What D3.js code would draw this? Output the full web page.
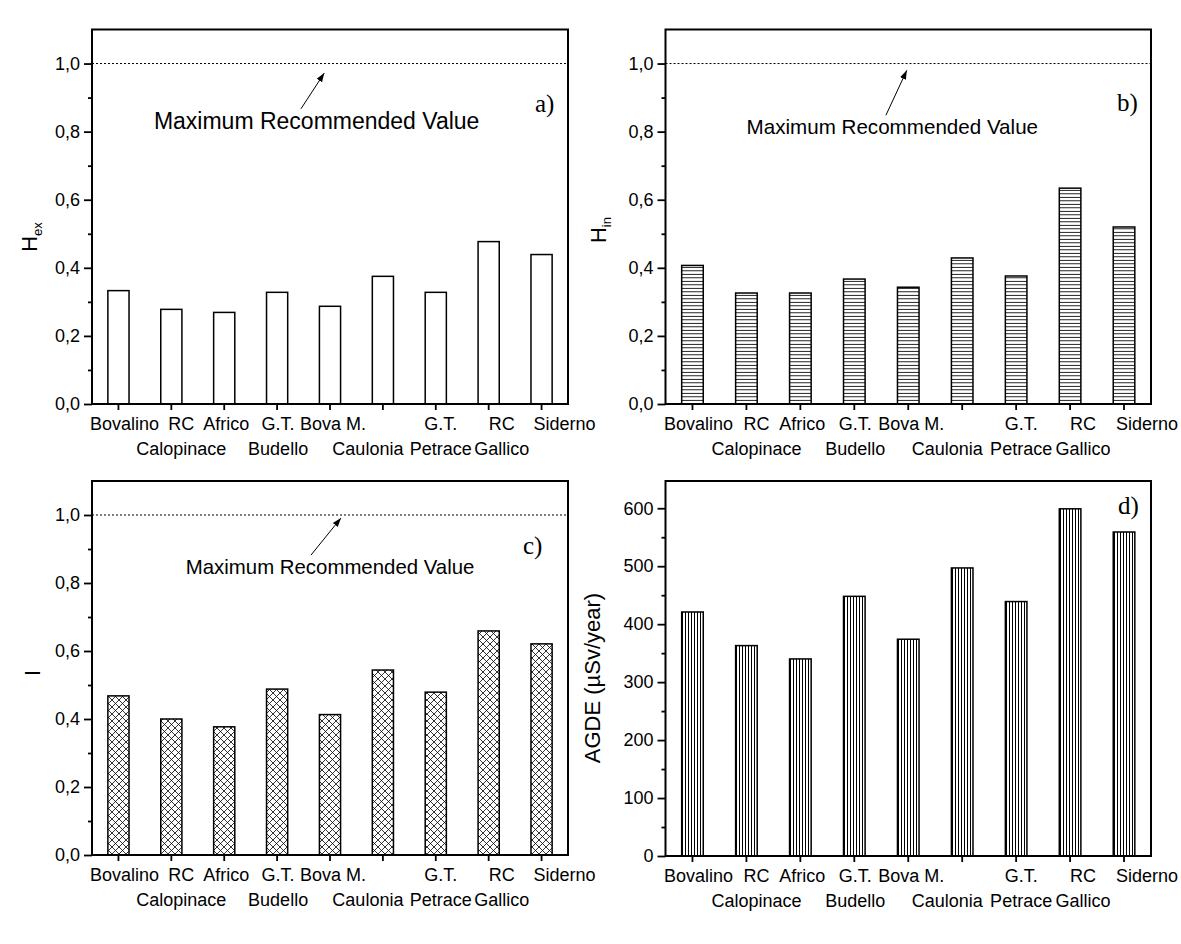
<!DOCTYPE html>
<html><head><meta charset="utf-8">
<script src="https://cdn.jsdelivr.net/npm/d3@7"></script>
<style>
body{margin:0;background:#fff}
svg{display:block}
text{font-family:"Liberation Sans",Arial,sans-serif;fill:#000}
</style>
</head><body>
<svg id="chart" width="1181" height="944"></svg>
<script>
// ---------- data ----------
const categories = ["Bovalino","RC Calopinace","Africo","G.T. Budello","Bova M.","Caulonia","G.T. Petrace","RC Gallico","Siderno"];
const labelLines = [["Bovalino"],["RC","Calopinace"],["Africo"],["G.T.","Budello"],["Bova M."],["","Caulonia"],["G.T.","Petrace"],["RC","Gallico"],["Siderno"]];
const hexValues  = [0.333,0.278,0.269,0.328,0.287,0.375,0.328,0.477,0.439];
const hinValues  = [0.407,0.326,0.326,0.367,0.343,0.429,0.376,0.634,0.520];
const iValues    = [0.468,0.400,0.377,0.488,0.413,0.544,0.479,0.659,0.621];
const agdeValues = [421,363,340,448,374,497,439,599,559];
const indexTicks = [0,0.2,0.4,0.6,0.8,1.0];
const indexMinor = [0.1,0.3,0.5,0.7,0.9];
const agdeTicks  = [0,100,200,300,400,500,600];
const agdeMinor  = [50,150,250,350,450,550];
const limitValue = 1.0;
const annotationText = "Maximum Recommended Value";

// ---------- layout (not data) ----------
const labelShift = [6,10,2,1,3,-15,5,13,23];
const commaFmt = d => d3.format(".1f")(d).replace(".", ",");
const intFmt = d3.format("d");

const panels = [
  {values:hexValues, ticks:indexTicks, minor:indexMinor, max:1.1, fmt:commaFmt, pattern:null,
   title:["H","ex"], x0:92, x1:568, y0:29.5, y1:404, titleX:37, titleY:237,
   tag:"a)", tagX:535, tagY:112, limit:true,
   ann:{tx:0.13, ty:0.807, size:23, ax1:0.439, ay1:0.867, ax2:0.488, ay2:0.972}},
  {values:hinValues, ticks:indexTicks, minor:indexMinor, max:1.1, fmt:commaFmt, pattern:"url(#hatchH)",
   title:["H","in"], x0:665.5, x1:1151, y0:29.5, y1:404, titleX:606, titleY:230,
   tag:"b)", tagX:1117, tagY:111, limit:true,
   ann:{tx:0.167, ty:0.794, size:20.6, ax1:0.454, ay1:0.848, ax2:0.497, ay2:0.98}},
  {values:iValues, ticks:indexTicks, minor:indexMinor, max:1.1, fmt:commaFmt, pattern:"url(#cross)",
   title:["I"], x0:92, x1:568, y0:481, y1:855, titleX:40, titleY:673,
   tag:"c)", tagX:523, tagY:554, limit:true,
   ann:{tx:0.197, ty:0.826, size:20.4, ax1:0.46, ay1:0.882, ax2:0.523, ay2:0.991}},
  {values:agdeValues, ticks:agdeTicks, minor:agdeMinor, max:647, fmt:intFmt, pattern:"url(#hatchV)",
   title:["AGDE (µSv/year)"], x0:665.5, x1:1151, y0:481, y1:856, titleX:600, titleY:678,
   tag:"d)", tagX:1118, tagY:514, limit:false, ann:null}
];

const svg = d3.select("#chart");
const defs = svg.append("defs");

// horizontal hatch
const ph = defs.append("pattern").attr("id","hatchH").attr("patternUnits","userSpaceOnUse")
  .attr("width",8).attr("height",3.5);
ph.append("rect").attr("width",8).attr("height",3.5).attr("fill","#fff");
ph.append("line").attr("x1",0).attr("x2",8).attr("y1",1.5).attr("y2",1.5)
  .attr("stroke","#000").attr("stroke-width",1).attr("shape-rendering","crispEdges");
// vertical hatch
const pv = defs.append("pattern").attr("id","hatchV").attr("patternUnits","userSpaceOnUse")
  .attr("width",3).attr("height",8);
pv.append("rect").attr("width",3).attr("height",8).attr("fill","#fff");
pv.append("line").attr("x1",1.5).attr("x2",1.5).attr("y1",0).attr("y2",8)
  .attr("stroke","#000").attr("stroke-width",1).attr("shape-rendering","crispEdges");
// cross hatch
const pc = defs.append("pattern").attr("id","cross").attr("patternUnits","userSpaceOnUse")
  .attr("width",7).attr("height",7);
pc.append("rect").attr("width",7).attr("height",7).attr("fill","#fff");
pc.append("path").attr("d","M0,0L7,7M7,0L0,7M-1,1L1,-1M6,8L8,6M-1,6L1,8M6,-1L8,1")
  .attr("stroke","#000").attr("stroke-width",0.8).attr("fill","none");
// arrow marker
defs.append("marker").attr("id","arrow").attr("markerUnits","userSpaceOnUse")
  .attr("markerWidth",10).attr("markerHeight",8).attr("refX",9).attr("refY",4)
  .attr("orient","auto")
  .append("path").attr("d","M0,0.8L9,4L0,7.2Z").attr("fill","#000");

panels.forEach(p => {
  const g = svg.append("g");
  const x = d3.scaleBand().domain(categories).range([p.x0, p.x1]).paddingInner(0).paddingOuter(0);
  const y = d3.scaleLinear().domain([0, p.max]).range([p.y1, p.y0]);
  const barW = x.bandwidth() * 0.4;
  const fx = t => p.x0 + t * (p.x1 - p.x0);

  // bars
  g.selectAll("rect.bar").data(p.values).join("rect").attr("class","bar")
    .attr("x", (d,i) => x(categories[i]) + (x.bandwidth() - barW) / 2)
    .attr("width", barW)
    .attr("y", d => y(d))
    .attr("height", d => y(0) - y(d))
    .attr("fill", p.pattern || "#fff")
    .attr("stroke", "#000").attr("stroke-width", 1.5);

  // limit line
  if (p.limit) {
    g.append("line").attr("x1", p.x0).attr("x2", p.x1)
      .attr("y1", y(limitValue)).attr("y2", y(limitValue))
      .attr("stroke","#000").attr("stroke-width",1).attr("stroke-dasharray","2,2");
  }

  // y axis major
  const ya = g.append("g").attr("transform", `translate(${p.x0},0)`)
    .call(d3.axisLeft(y).tickValues(p.ticks).tickFormat(p.fmt).tickSizeInner(8).tickSizeOuter(0).tickPadding(4));
  ya.select(".domain").remove();
  ya.selectAll("line").attr("stroke-width",1.8);
  ya.selectAll("text").style("font-size","18px").style("font-family",'"Liberation Sans",Arial,sans-serif');
  // y axis minor
  const ym = g.append("g").attr("transform", `translate(${p.x0},0)`)
    .call(d3.axisLeft(y).tickValues(p.minor).tickFormat("").tickSizeInner(4).tickSizeOuter(0));
  ym.select(".domain").remove();
  ym.selectAll("line").attr("stroke-width",1.8);

  // x axis
  const xa = g.append("g").attr("transform", `translate(0,${p.y1})`)
    .call(d3.axisBottom(x).tickFormat("").tickSizeInner(6).tickSizeOuter(0));
  xa.select(".domain").remove();
  xa.selectAll("line").attr("stroke-width",1.8);
  xa.selectAll(".tick").each(function(d) {
    const i = categories.indexOf(d);
    const t = d3.select(this).append("text")
      .attr("text-anchor","middle").attr("fill","#000")
      .style("font-size","18px").style("font-family",'"Liberation Sans",Arial,sans-serif');
    labelLines[i].forEach((ln, k) => {
      t.append("tspan").attr("x", labelShift[i]).attr("y", 26 + k * 25).text(ln);
    });
  });

  // frame
  g.append("rect").attr("x", p.x0).attr("y", p.y0)
    .attr("width", p.x1 - p.x0).attr("height", p.y1 - p.y0)
    .attr("fill","none").attr("stroke","#000").attr("stroke-width",2);

  // y title
  const tt = g.append("text").attr("text-anchor","middle")
    .attr("transform", `translate(${p.titleX},${p.titleY}) rotate(-90)`)
    .style("font-size","22px");
  tt.append("tspan").text(p.title[0]);
  if (p.title[1]) tt.append("tspan").attr("dy",5).style("font-size","13px").text(p.title[1]);

  // panel tag
  g.append("text").attr("x", p.tagX).attr("y", p.tagY)
    .style("font-family",'"Liberation Serif","Times New Roman",serif').style("font-size","25px")
    .text(p.tag);

  // annotation
  if (p.ann) {
    const a = p.ann;
    g.append("text").attr("x", fx(a.tx)).attr("y", y(a.ty))
      .style("font-size", a.size + "px").text(annotationText);
    g.append("line").attr("x1", fx(a.ax1)).attr("y1", y(a.ay1))
      .attr("x2", fx(a.ax2)).attr("y2", y(a.ay2))
      .attr("stroke","#000").attr("stroke-width",1).attr("marker-end","url(#arrow)");
  }
});
</script>
</body></html>
